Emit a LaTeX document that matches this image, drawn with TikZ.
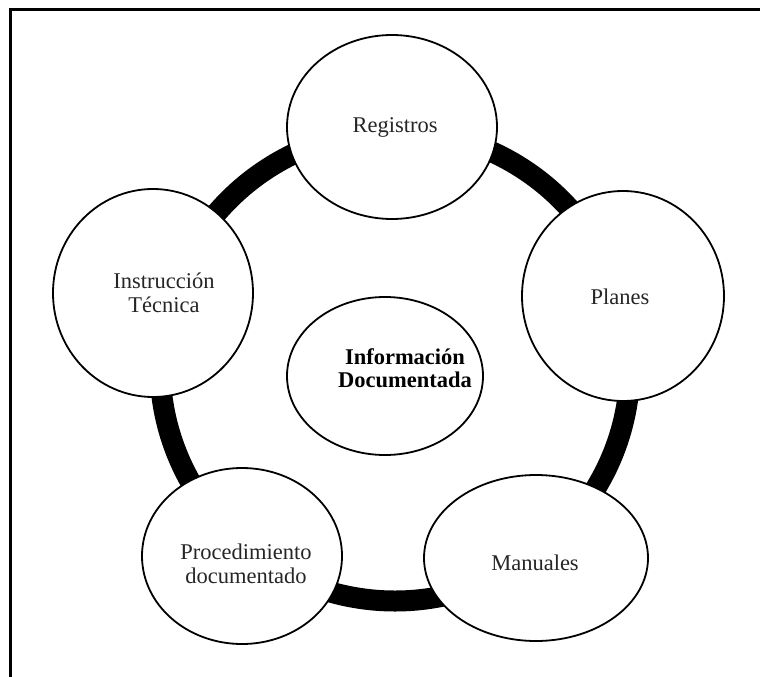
\documentclass[tikz,border=0pt]{standalone}
\usepackage{fontspec}
\setmainfont{Liberation Serif}
\usetikzlibrary{shapes.geometric}
\begin{document}
\begin{tikzpicture}[x=1pt,y=-1pt,
  bubble/.style={draw=black, line width=1.8pt, fill=white, ellipse, inner sep=0pt},
  lbl/.style={align=center, inner sep=0pt, text=black!85, font=\fontsize{22.5}{23.5}\selectfont},
  blbl/.style={lbl, text=black, font=\fontsize{22.5}{23.5}\selectfont\bfseries}]
\useasboundingbox (0,0) rectangle (760,677);
\fill[white] (0,0) rectangle (760,677);
% frame (top and left edges)
\draw[line width=3pt, line join=miter] (10,677) -- (10,9.5) -- (760,9.5);
% ring
\coordinate (ringc) at (395,366);
\draw[line width=21pt] (ringc) circle (235pt);
% ellipses
\node[bubble, minimum width=210pt, minimum height=184pt] (reg) at (392,127) {};
\node[bubble, minimum width=202pt, minimum height=210pt] (pla) at (623,296) {};
\node[bubble, minimum width=224pt, minimum height=166pt] (man) at (536,558) {};
\node[bubble, minimum width=200pt, minimum height=176pt] (pro) at (242,556) {};
\node[bubble, minimum width=200pt, minimum height=208pt] (ins) at (153,293) {};
\node[bubble, minimum width=196pt, minimum height=158pt] (inf) at (385,376) {};
% texts
\node[lbl] (treg) at (395,127) {Registros};
\node[lbl] (tpla) at (620,297) {Planes};
\node[lbl] (tman) at (535,563) {Manuales};
\node[lbl] (tpro) at (246,564) {Procedimiento\\documentado};
\node[lbl] (tins) at (164,293) {Instrucción\\Técnica};
\node[blbl] (tinf) at (405,368) {Información\\Documentada};
\end{tikzpicture}
\end{document}
